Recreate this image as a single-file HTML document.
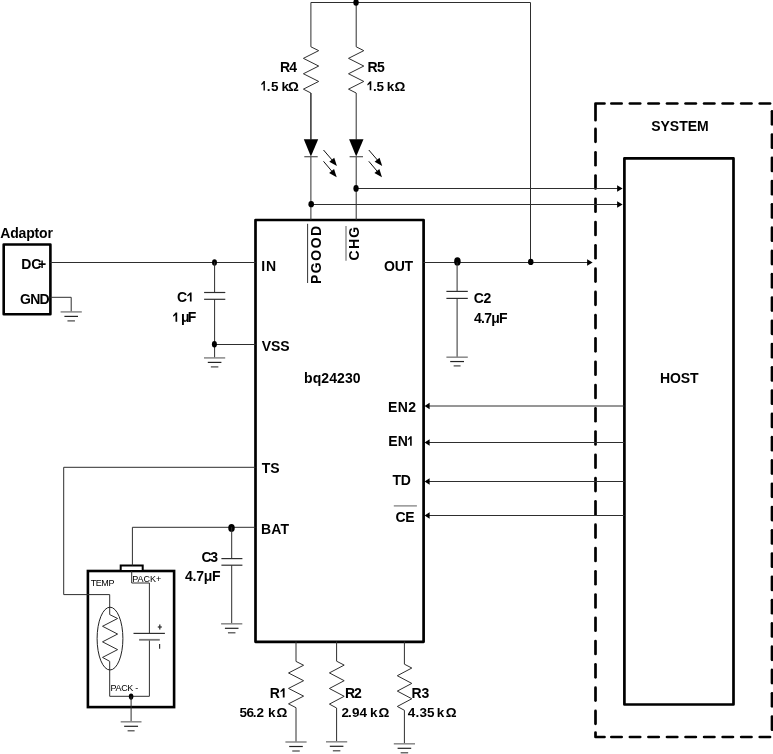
<!DOCTYPE html>
<html><head><meta charset="utf-8"><style>
html,body{margin:0;padding:0;background:#fff;}
svg{display:block;will-change:transform;}
text{font-family:"Liberation Sans",sans-serif;fill:#000;}
</style></head><body>
<svg width="773" height="754" viewBox="0 0 773 754">
<rect width="773" height="754" fill="#fff"/>
<path d="M604.5,103.5 H595.5 V120.2" stroke="#000" stroke-width="2.7" fill="none" stroke-linecap="round" stroke-linejoin="round"/>
<path d="M611.35,103.5 H621.65" stroke="#000" stroke-width="2.7" stroke-linecap="round"/>
<path d="M629.90,103.5 H640.20" stroke="#000" stroke-width="2.7" stroke-linecap="round"/>
<path d="M648.45,103.5 H658.75" stroke="#000" stroke-width="2.7" stroke-linecap="round"/>
<path d="M667.00,103.5 H677.30" stroke="#000" stroke-width="2.7" stroke-linecap="round"/>
<path d="M685.55,103.5 H695.85" stroke="#000" stroke-width="2.7" stroke-linecap="round"/>
<path d="M704.10,103.5 H714.40" stroke="#000" stroke-width="2.7" stroke-linecap="round"/>
<path d="M722.65,103.5 H732.95" stroke="#000" stroke-width="2.7" stroke-linecap="round"/>
<path d="M741.20,103.5 H751.50" stroke="#000" stroke-width="2.7" stroke-linecap="round"/>
<path d="M759.75,103.5 H770.05" stroke="#000" stroke-width="2.7" stroke-linecap="round"/>
<path d="M604.5,737.0 H595.5 V732.6" stroke="#000" stroke-width="2.7" fill="none" stroke-linecap="round" stroke-linejoin="round"/>
<path d="M611.35,737.0 H621.65" stroke="#000" stroke-width="2.7" stroke-linecap="round"/>
<path d="M629.90,737.0 H640.20" stroke="#000" stroke-width="2.7" stroke-linecap="round"/>
<path d="M648.45,737.0 H658.75" stroke="#000" stroke-width="2.7" stroke-linecap="round"/>
<path d="M667.00,737.0 H677.30" stroke="#000" stroke-width="2.7" stroke-linecap="round"/>
<path d="M685.55,737.0 H695.85" stroke="#000" stroke-width="2.7" stroke-linecap="round"/>
<path d="M704.10,737.0 H714.40" stroke="#000" stroke-width="2.7" stroke-linecap="round"/>
<path d="M722.65,737.0 H732.95" stroke="#000" stroke-width="2.7" stroke-linecap="round"/>
<path d="M741.20,737.0 H751.50" stroke="#000" stroke-width="2.7" stroke-linecap="round"/>
<path d="M759.75,737.0 H770.05" stroke="#000" stroke-width="2.7" stroke-linecap="round"/>
<path d="M595.5,128.95 V141.85" stroke="#000" stroke-width="2.7" stroke-linecap="round"/>
<path d="M595.5,152.23 V165.13" stroke="#000" stroke-width="2.7" stroke-linecap="round"/>
<path d="M595.5,175.51 V188.41" stroke="#000" stroke-width="2.7" stroke-linecap="round"/>
<path d="M595.5,198.79 V211.69" stroke="#000" stroke-width="2.7" stroke-linecap="round"/>
<path d="M595.5,222.07 V234.97" stroke="#000" stroke-width="2.7" stroke-linecap="round"/>
<path d="M595.5,245.35 V258.25" stroke="#000" stroke-width="2.7" stroke-linecap="round"/>
<path d="M595.5,268.63 V281.53" stroke="#000" stroke-width="2.7" stroke-linecap="round"/>
<path d="M595.5,291.91 V304.81" stroke="#000" stroke-width="2.7" stroke-linecap="round"/>
<path d="M595.5,315.19 V328.09" stroke="#000" stroke-width="2.7" stroke-linecap="round"/>
<path d="M595.5,338.47 V351.37" stroke="#000" stroke-width="2.7" stroke-linecap="round"/>
<path d="M595.5,361.75 V374.65" stroke="#000" stroke-width="2.7" stroke-linecap="round"/>
<path d="M595.5,385.03 V397.93" stroke="#000" stroke-width="2.7" stroke-linecap="round"/>
<path d="M595.5,408.31 V421.21" stroke="#000" stroke-width="2.7" stroke-linecap="round"/>
<path d="M595.5,431.59 V444.49" stroke="#000" stroke-width="2.7" stroke-linecap="round"/>
<path d="M595.5,454.87 V467.77" stroke="#000" stroke-width="2.7" stroke-linecap="round"/>
<path d="M595.5,478.15 V491.05" stroke="#000" stroke-width="2.7" stroke-linecap="round"/>
<path d="M595.5,501.43 V514.33" stroke="#000" stroke-width="2.7" stroke-linecap="round"/>
<path d="M595.5,524.71 V537.61" stroke="#000" stroke-width="2.7" stroke-linecap="round"/>
<path d="M595.5,547.99 V560.89" stroke="#000" stroke-width="2.7" stroke-linecap="round"/>
<path d="M595.5,571.27 V584.17" stroke="#000" stroke-width="2.7" stroke-linecap="round"/>
<path d="M595.5,594.55 V607.45" stroke="#000" stroke-width="2.7" stroke-linecap="round"/>
<path d="M595.5,617.83 V630.73" stroke="#000" stroke-width="2.7" stroke-linecap="round"/>
<path d="M595.5,641.11 V654.01" stroke="#000" stroke-width="2.7" stroke-linecap="round"/>
<path d="M595.5,664.39 V677.29" stroke="#000" stroke-width="2.7" stroke-linecap="round"/>
<path d="M595.5,687.67 V700.57" stroke="#000" stroke-width="2.7" stroke-linecap="round"/>
<path d="M595.5,710.95 V723.85" stroke="#000" stroke-width="2.7" stroke-linecap="round"/>
<path d="M772.0,111.25 V124.35" stroke="#000" stroke-width="2.7" stroke-linecap="round"/>
<path d="M772.0,134.53 V147.63" stroke="#000" stroke-width="2.7" stroke-linecap="round"/>
<path d="M772.0,157.81 V170.91" stroke="#000" stroke-width="2.7" stroke-linecap="round"/>
<path d="M772.0,181.09 V194.19" stroke="#000" stroke-width="2.7" stroke-linecap="round"/>
<path d="M772.0,204.37 V217.47" stroke="#000" stroke-width="2.7" stroke-linecap="round"/>
<path d="M772.0,227.65 V240.75" stroke="#000" stroke-width="2.7" stroke-linecap="round"/>
<path d="M772.0,250.93 V264.03" stroke="#000" stroke-width="2.7" stroke-linecap="round"/>
<path d="M772.0,274.21 V287.31" stroke="#000" stroke-width="2.7" stroke-linecap="round"/>
<path d="M772.0,297.49 V310.59" stroke="#000" stroke-width="2.7" stroke-linecap="round"/>
<path d="M772.0,320.77 V333.87" stroke="#000" stroke-width="2.7" stroke-linecap="round"/>
<path d="M772.0,344.05 V357.15" stroke="#000" stroke-width="2.7" stroke-linecap="round"/>
<path d="M772.0,367.33 V380.43" stroke="#000" stroke-width="2.7" stroke-linecap="round"/>
<path d="M772.0,390.61 V403.71" stroke="#000" stroke-width="2.7" stroke-linecap="round"/>
<path d="M772.0,413.89 V426.99" stroke="#000" stroke-width="2.7" stroke-linecap="round"/>
<path d="M772.0,437.17 V450.27" stroke="#000" stroke-width="2.7" stroke-linecap="round"/>
<path d="M772.0,460.45 V473.55" stroke="#000" stroke-width="2.7" stroke-linecap="round"/>
<path d="M772.0,483.73 V496.83" stroke="#000" stroke-width="2.7" stroke-linecap="round"/>
<path d="M772.0,507.01 V520.11" stroke="#000" stroke-width="2.7" stroke-linecap="round"/>
<path d="M772.0,530.29 V543.39" stroke="#000" stroke-width="2.7" stroke-linecap="round"/>
<path d="M772.0,553.57 V566.67" stroke="#000" stroke-width="2.7" stroke-linecap="round"/>
<path d="M772.0,576.85 V589.95" stroke="#000" stroke-width="2.7" stroke-linecap="round"/>
<path d="M772.0,600.13 V613.23" stroke="#000" stroke-width="2.7" stroke-linecap="round"/>
<path d="M772.0,623.41 V636.51" stroke="#000" stroke-width="2.7" stroke-linecap="round"/>
<path d="M772.0,646.69 V659.79" stroke="#000" stroke-width="2.7" stroke-linecap="round"/>
<path d="M772.0,669.97 V683.07" stroke="#000" stroke-width="2.7" stroke-linecap="round"/>
<path d="M772.0,693.25 V706.35" stroke="#000" stroke-width="2.7" stroke-linecap="round"/>
<path d="M772.0,716.53 V729.63" stroke="#000" stroke-width="2.7" stroke-linecap="round"/>
<rect x="624.4" y="158.3" width="109.1" height="546.2" fill="none" stroke="#000" stroke-width="2.7" stroke-linejoin="round"/>
<rect x="255.5" y="220.0" width="168.1" height="421.8" fill="none" stroke="#000" stroke-width="2.7" stroke-linejoin="round"/>
<rect x="3.7" y="244.5" width="46.7" height="69.7" fill="none" stroke="#000" stroke-width="2.6" stroke-linejoin="round"/>
<rect x="87.9" y="571.0" width="86.2" height="136.1" fill="none" stroke="#000" stroke-width="2.6"/>
<rect x="120.7" y="565.5" width="22.0" height="5.5" fill="#fff" stroke="#000" stroke-width="2.0"/>
<path d="M310.9,139.5 L310.9,93.0" stroke="#2e2e2e" stroke-width="1.0" fill="none" stroke-linejoin="miter" />
<path d="M310.9,46.8 L318.7,50.65 L303.4,58.349999999999994 L318.7,66.05 L303.4,73.75 L318.7,81.44999999999999 L303.4,89.15 L310.9,93.0" stroke="#2e2e2e" stroke-width="1.0" fill="none" stroke-linejoin="miter" />
<path d="M310.9,46.8 L310.9,2.5 L530.5,2.5 L530.5,262.3" stroke="#2e2e2e" stroke-width="1.0" fill="none" stroke-linejoin="miter" />
<path d="M356.2,46.8 L363.8,50.65 L348.5,58.349999999999994 L363.8,66.05 L348.5,73.75 L363.8,81.44999999999999 L348.5,89.15 L356.2,93.0" stroke="#2e2e2e" stroke-width="1.0" fill="none" stroke-linejoin="miter" />
<line x1="356.2" y1="2.5" x2="356.2" y2="46.8" stroke="#2e2e2e" stroke-width="1.0" />
<line x1="310.9" y1="156.5" x2="310.9" y2="220.0" stroke="#2e2e2e" stroke-width="1.0" />
<line x1="356.2" y1="156.5" x2="356.2" y2="220.0" stroke="#2e2e2e" stroke-width="1.0" />
<line x1="310.9" y1="93.0" x2="310.9" y2="139.5" stroke="#2e2e2e" stroke-width="1.0" />
<line x1="356.2" y1="93.0" x2="356.2" y2="139.5" stroke="#2e2e2e" stroke-width="1.0" />
<ellipse cx="356.05" cy="2.5" rx="2.7" ry="3.3" fill="#000"/>
<path d="M303.79999999999995,139.3 L318.2,139.3 L310.9,156.4 Z" fill="#000"/>
<line x1="304.29999999999995" y1="156.7" x2="317.7" y2="156.7" stroke="#555" stroke-width="1.2" />
<line x1="323.5" y1="150.0" x2="333.3" y2="161.4" stroke="#111" stroke-width="1.0" />
<path d="M336.90000000000003,165.9 L329.32,161.80 L334.24,157.70 Z" fill="#000"/>
<line x1="323.5" y1="161.29999999999998" x2="333.1" y2="172.7" stroke="#111" stroke-width="1.0" />
<path d="M336.70000000000005,177.2 L329.12,173.10 L334.04,169.00 Z" fill="#000"/>
<path d="M349.09999999999997,139.3 L363.5,139.3 L356.2,156.4 Z" fill="#000"/>
<line x1="349.59999999999997" y1="156.7" x2="363.0" y2="156.7" stroke="#555" stroke-width="1.2" />
<line x1="368.8" y1="150.0" x2="378.6" y2="161.4" stroke="#111" stroke-width="1.0" />
<path d="M382.20000000000005,165.9 L374.62,161.80 L379.54,157.70 Z" fill="#000"/>
<line x1="368.8" y1="161.29999999999998" x2="378.40000000000003" y2="172.7" stroke="#111" stroke-width="1.0" />
<path d="M382.00000000000006,177.2 L374.42,173.10 L379.34,169.00 Z" fill="#000"/>
<line x1="356.2" y1="188.5" x2="618" y2="188.5" stroke="#2e2e2e" stroke-width="1.0" />
<path d="M622.6,188.5 L617.10,191.80 L617.10,185.20 Z" fill="#000"/>
<line x1="310.9" y1="204.5" x2="618" y2="204.5" stroke="#2e2e2e" stroke-width="1.0" />
<path d="M622.6,204.5 L617.10,207.80 L617.10,201.20 Z" fill="#000"/>
<ellipse cx="356.05" cy="188.4" rx="2.65" ry="3.4" fill="#000"/>
<ellipse cx="311.2" cy="204.15" rx="2.8" ry="3.15" fill="#000"/>
<line x1="50.4" y1="262.5" x2="255.5" y2="262.5" stroke="#2e2e2e" stroke-width="1.0" />
<ellipse cx="214.5" cy="262.5" rx="2.45" ry="3.2" fill="#000"/>
<line x1="214.6" y1="262.3" x2="214.6" y2="292.5" stroke="#2e2e2e" stroke-width="1.0" />
<line x1="204.1" y1="292.5" x2="225.3" y2="292.5" stroke="#2e2e2e" stroke-width="1.2" />
<line x1="204.1" y1="299.3" x2="225.3" y2="299.3" stroke="#2e2e2e" stroke-width="1.2" />
<line x1="214.6" y1="299.3" x2="214.6" y2="357.9" stroke="#2e2e2e" stroke-width="1.0" />
<line x1="214.6" y1="344.5" x2="255.5" y2="344.5" stroke="#2e2e2e" stroke-width="1.0" />
<ellipse cx="214.4" cy="344.2" rx="2.5" ry="3.3" fill="#000"/>
<line x1="204.0" y1="357.9" x2="225.2" y2="357.9" stroke="#888" stroke-width="1.5" />
<line x1="207.79999999999998" y1="362.4" x2="221.4" y2="362.4" stroke="#222" stroke-width="1.2" />
<line x1="210.85" y1="366.9" x2="218.35" y2="366.9" stroke="#444" stroke-width="1.2" />
<path d="M50.4,297.3 L71.2,297.3 L71.2,311.9" stroke="#2e2e2e" stroke-width="1.0" fill="none" stroke-linejoin="miter" />
<line x1="60.6" y1="311.9" x2="81.8" y2="311.9" stroke="#888" stroke-width="1.5" />
<line x1="64.4" y1="316.4" x2="78.0" y2="316.4" stroke="#222" stroke-width="1.2" />
<line x1="67.45" y1="320.9" x2="74.95" y2="320.9" stroke="#444" stroke-width="1.2" />
<line x1="423.5" y1="262.5" x2="588" y2="262.5" stroke="#2e2e2e" stroke-width="1.0" />
<path d="M592.6,262.5 L587.10,265.80 L587.10,259.20 Z" fill="#000"/>
<ellipse cx="457.4" cy="261.4" rx="3.25" ry="4.2" fill="#000"/>
<ellipse cx="530.75" cy="261.9" rx="2.75" ry="3.15" fill="#000"/>
<line x1="457.1" y1="262.3" x2="457.1" y2="291.4" stroke="#2e2e2e" stroke-width="1.0" />
<line x1="446.4" y1="291.4" x2="467.8" y2="291.4" stroke="#2e2e2e" stroke-width="1.2" />
<line x1="446.4" y1="298.4" x2="467.8" y2="298.4" stroke="#2e2e2e" stroke-width="1.2" />
<line x1="457.1" y1="298.4" x2="457.1" y2="357.2" stroke="#2e2e2e" stroke-width="1.0" />
<line x1="446.40000000000003" y1="357.2" x2="467.8" y2="357.2" stroke="#888" stroke-width="1.5" />
<line x1="450.20000000000005" y1="361.55" x2="464.0" y2="361.55" stroke="#222" stroke-width="1.2" />
<line x1="453.65000000000003" y1="365.9" x2="460.55" y2="365.9" stroke="#444" stroke-width="1.2" />
<line x1="624.4" y1="406.0" x2="428" y2="406.0" stroke="#2e2e2e" stroke-width="1.0" />
<path d="M424.6,406.0 L429.60,402.80 L429.60,409.20 Z" fill="#000"/>
<line x1="624.4" y1="442.5" x2="428" y2="442.5" stroke="#2e2e2e" stroke-width="1.0" />
<path d="M424.6,442.5 L429.60,439.30 L429.60,445.70 Z" fill="#000"/>
<line x1="624.4" y1="481.5" x2="428" y2="481.5" stroke="#2e2e2e" stroke-width="1.0" />
<path d="M424.6,481.5 L429.60,478.30 L429.60,484.70 Z" fill="#000"/>
<line x1="624.4" y1="515.5" x2="428" y2="515.5" stroke="#2e2e2e" stroke-width="1.0" />
<path d="M424.6,515.5 L429.60,512.30 L429.60,518.70 Z" fill="#000"/>
<line x1="393.8" y1="505.9" x2="416.9" y2="505.9" stroke="#777" stroke-width="1.2" />
<line x1="307.6" y1="223.8" x2="307.6" y2="283.0" stroke="#333" stroke-width="1.0" />
<line x1="346.0" y1="226.1" x2="346.0" y2="260.7" stroke="#777" stroke-width="1.2" />
<path d="M255.5,467.3 L63.7,467.3 L63.7,594.6 L109.7,594.6 L109.7,614.6" stroke="#2e2e2e" stroke-width="1.0" fill="none" stroke-linejoin="miter" />
<path d="M109.7,614.6 L117.6,618.4916666666667 L102.5,626.275 L117.6,634.0583333333333 L102.5,641.8416666666667 L117.6,649.625 L102.5,657.4083333333333 L109.7,661.3" stroke="#2e2e2e" stroke-width="1.0" fill="none" stroke-linejoin="miter" />
<ellipse cx="110.0" cy="638.6" rx="12.9" ry="31.4" fill="none" stroke="#222" stroke-width="1"/>
<path d="M109.7,661.3 L109.7,696.3 L149.4,696.3 L149.4,639.8" stroke="#2e2e2e" stroke-width="1.0" fill="none" stroke-linejoin="miter" />
<path d="M255.5,527.3 L132.4,527.3 L132.4,565.5" stroke="#2e2e2e" stroke-width="1.0" fill="none" stroke-linejoin="miter" />
<path d="M131.7,571.0 L131.7,583.0 L149.4,583.0 L149.4,633.4" stroke="#2e2e2e" stroke-width="1.0" fill="none" stroke-linejoin="miter" />
<line x1="133.5" y1="633.4" x2="164.9" y2="633.4" stroke="#2e2e2e" stroke-width="1.2" />
<line x1="139.1" y1="639.8" x2="159.8" y2="639.8" stroke="#777" stroke-width="1.8" />
<line x1="157.8" y1="627.0" x2="161.8" y2="627.0" stroke="#333" stroke-width="1.3" />
<line x1="159.8" y1="624.5" x2="159.8" y2="629.5" stroke="#333" stroke-width="1.3" />
<line x1="159.6" y1="644.0" x2="159.6" y2="648.8" stroke="#333" stroke-width="1.2" />
<ellipse cx="131.1" cy="696.6" rx="2.3" ry="3.1" fill="#000"/>
<line x1="131.1" y1="696.5" x2="131.1" y2="721.8" stroke="#2e2e2e" stroke-width="1.0" />
<line x1="120.69999999999999" y1="721.8" x2="141.5" y2="721.8" stroke="#888" stroke-width="1.5" />
<line x1="124.14999999999999" y1="726.3" x2="138.04999999999998" y2="726.3" stroke="#222" stroke-width="1.2" />
<line x1="127.6" y1="730.8" x2="134.6" y2="730.8" stroke="#444" stroke-width="1.2" />
<ellipse cx="231.5" cy="527.9" rx="3.25" ry="3.9" fill="#000"/>
<line x1="231.7" y1="527.3" x2="231.7" y2="558.6" stroke="#2e2e2e" stroke-width="1.0" />
<line x1="221.4" y1="558.6" x2="242.4" y2="558.6" stroke="#2e2e2e" stroke-width="1.2" />
<line x1="221.4" y1="565.2" x2="242.4" y2="565.2" stroke="#2e2e2e" stroke-width="1.2" />
<line x1="231.7" y1="565.2" x2="231.7" y2="623.8" stroke="#2e2e2e" stroke-width="1.0" />
<line x1="221.1" y1="623.8" x2="242.29999999999998" y2="623.8" stroke="#888" stroke-width="1.5" />
<line x1="224.89999999999998" y1="628.3" x2="238.5" y2="628.3" stroke="#222" stroke-width="1.2" />
<line x1="227.95" y1="632.8" x2="235.45" y2="632.8" stroke="#444" stroke-width="1.2" />
<line x1="296.0" y1="641.5" x2="296.0" y2="661.4" stroke="#2e2e2e" stroke-width="1.0" />
<path d="M296.0,661.4 L303.6,665.2583333333333 L288.5,672.975 L303.6,680.6916666666667 L288.5,688.4083333333333 L303.6,696.125 L288.5,703.8416666666667 L296.0,707.7" stroke="#2e2e2e" stroke-width="1.0" fill="none" stroke-linejoin="miter" />
<line x1="296.0" y1="707.7" x2="296.0" y2="742.0" stroke="#2e2e2e" stroke-width="1.0" />
<line x1="285.4" y1="742.0" x2="306.6" y2="742.0" stroke="#888" stroke-width="1.5" />
<line x1="289.2" y1="746.5" x2="302.8" y2="746.5" stroke="#222" stroke-width="1.2" />
<line x1="292.25" y1="751.0" x2="299.75" y2="751.0" stroke="#444" stroke-width="1.2" />
<line x1="336.6" y1="641.5" x2="336.6" y2="661.2" stroke="#2e2e2e" stroke-width="1.0" />
<path d="M336.6,661.2 L344.2,665.1 L329.4,672.9000000000001 L344.2,680.7 L329.4,688.5 L344.2,696.3 L329.4,704.1 L336.6,708.0" stroke="#2e2e2e" stroke-width="1.0" fill="none" stroke-linejoin="miter" />
<line x1="336.6" y1="708.0" x2="336.6" y2="741.8" stroke="#2e2e2e" stroke-width="1.0" />
<line x1="326.0" y1="741.8" x2="347.20000000000005" y2="741.8" stroke="#888" stroke-width="1.5" />
<line x1="329.8" y1="746.3" x2="343.40000000000003" y2="746.3" stroke="#222" stroke-width="1.2" />
<line x1="332.85" y1="750.8" x2="340.35" y2="750.8" stroke="#444" stroke-width="1.2" />
<line x1="404.4" y1="641.5" x2="404.4" y2="664.2" stroke="#2e2e2e" stroke-width="1.0" />
<path d="M404.4,664.2 L411.8,668.0416666666667 L397.3,675.725 L411.8,683.4083333333333 L397.3,691.0916666666667 L411.8,698.775 L397.3,706.4583333333333 L404.4,710.3" stroke="#2e2e2e" stroke-width="1.0" fill="none" stroke-linejoin="miter" />
<line x1="404.4" y1="710.3" x2="404.4" y2="743.8" stroke="#2e2e2e" stroke-width="1.0" />
<line x1="393.79999999999995" y1="743.8" x2="415.0" y2="743.8" stroke="#888" stroke-width="1.5" />
<line x1="397.59999999999997" y1="748.3" x2="411.2" y2="748.3" stroke="#222" stroke-width="1.2" />
<line x1="400.65" y1="752.8" x2="408.15" y2="752.8" stroke="#444" stroke-width="1.2" />
<text x="0.20" y="237.6" font-size="14" font-weight="bold" textLength="52.67" lengthAdjust="spacing">Adaptor</text>
<text x="20.10" y="303.8" font-size="14" font-weight="bold" textLength="29.52" lengthAdjust="spacing">GND</text>
<text x="261.20" y="270.8" font-size="14" font-weight="bold" textLength="14.90" lengthAdjust="spacing">IN</text>
<text x="261.75" y="351.0" font-size="14" font-weight="bold" textLength="27.77" lengthAdjust="spacing">VSS</text>
<text x="384.10" y="271.0" font-size="14" font-weight="bold" textLength="28.96" lengthAdjust="spacing">OUT</text>
<text x="304.00" y="383.0" font-size="14" font-weight="bold" textLength="56.55" lengthAdjust="spacing">bq24230</text>
<text x="388.00" y="412.0" font-size="14" font-weight="bold" textLength="27.98" lengthAdjust="spacing">EN2</text>
<text x="392.45" y="485.0" font-size="14" font-weight="bold" textLength="18.42" lengthAdjust="spacing">TD</text>
<text x="395.40" y="521.5" font-size="14" font-weight="bold" textLength="19.25" lengthAdjust="spacing">CE</text>
<text x="261.75" y="472.9" font-size="14" font-weight="bold" textLength="17.89" lengthAdjust="spacing">TS</text>
<text x="261.00" y="533.8" font-size="14" font-weight="bold" textLength="28.03" lengthAdjust="spacing">BAT</text>
<text x="473.80" y="302.9" font-size="14" font-weight="bold" textLength="17.56" lengthAdjust="spacing">C2</text>
<text x="474.05" y="323.1" font-size="14" font-weight="bold" textLength="33.54" lengthAdjust="spacing">4.7μF</text>
<text x="201.50" y="561.7" font-size="14" font-weight="bold" textLength="16.51" lengthAdjust="spacing">C3</text>
<text x="184.95" y="581.0" font-size="14" font-weight="bold" textLength="35.64" lengthAdjust="spacing">4.7μF</text>
<text x="279.90" y="71.7" font-size="14" font-weight="bold" textLength="17.16" lengthAdjust="spacing">R4</text>
<text x="367.50" y="71.7" font-size="14" font-weight="bold" textLength="17.41" lengthAdjust="spacing">R5</text>
<text x="345.00" y="697.8" font-size="14" font-weight="bold" textLength="16.76" lengthAdjust="spacing">R2</text>
<text x="411.60" y="697.8" font-size="14" font-weight="bold" textLength="17.81" lengthAdjust="spacing">R3</text>
<text x="651.30" y="130.8" font-size="14" font-weight="bold" textLength="57.28" lengthAdjust="spacing">SYSTEM</text>
<text x="659.90" y="383.2" font-size="14" font-weight="bold" textLength="38.74" lengthAdjust="spacing">HOST</text>
<text x="90.75" y="585.6" font-size="9" font-weight="normal" textLength="23.67" lengthAdjust="spacing">TEMP</text>
<text x="132.25" y="581.7" font-size="9" font-weight="normal" textLength="29.01" lengthAdjust="spacing">PACK+</text>
<text x="110.55" y="691.0" font-size="9" font-weight="normal" textLength="27.59" lengthAdjust="spacing">PACK -</text>
<text transform="translate(321.1,284.00) rotate(-90)" x="0" y="0" font-size="14" font-weight="bold" textLength="58.22" lengthAdjust="spacing">PGOOD</text>
<text transform="translate(358.9,260.50) rotate(-90)" x="0" y="0" font-size="14" font-weight="bold" textLength="33.68" lengthAdjust="spacing">CHG</text>
<text y="268.8" font-size="14" font-weight="bold"><tspan x="21.20">DC</tspan><tspan x="38.10">+</tspan></text>
<text y="445.9" font-size="14" font-weight="bold"><tspan x="388.30">EN</tspan></text>
<text y="301.8" font-size="14" font-weight="bold"><tspan x="176.90">C</tspan></text>
<text y="322.0" font-size="14" font-weight="bold"><tspan x="181.10">μ</tspan><tspan x="187.80">F</tspan></text>
<text y="90.6" font-size="13.5" font-weight="bold"><tspan x="266.80">.</tspan><tspan x="271.10">5</tspan><tspan x="281.40">k</tspan><tspan x="287.90">Ω</tspan></text>
<text y="90.6" font-size="13.5" font-weight="bold"><tspan x="373.00">.</tspan><tspan x="376.50">5</tspan><tspan x="386.80">k</tspan><tspan x="394.50">Ω</tspan></text>
<text y="716.8" font-size="13.5" font-weight="bold"><tspan x="239.50">5</tspan><tspan x="246.40">6</tspan><tspan x="252.80">.</tspan><tspan x="256.50">2</tspan><tspan x="267.90">k</tspan><tspan x="276.40">Ω</tspan></text>
<text y="716.8" font-size="13.5" font-weight="bold"><tspan x="341.40">2</tspan><tspan x="348.10">.</tspan><tspan x="352.10">9</tspan><tspan x="359.55">4</tspan><tspan x="369.90">k</tspan><tspan x="378.50">Ω</tspan></text>
<text y="716.8" font-size="13.5" font-weight="bold"><tspan x="407.75">4</tspan><tspan x="415.60">.</tspan><tspan x="419.55">3</tspan><tspan x="427.00">5</tspan><tspan x="436.80">k</tspan><tspan x="445.80">Ω</tspan></text>
<text y="697.8" font-size="14" font-weight="bold"><tspan x="269.70">R</tspan></text>
<path d="M280.30,691.15 L283.00,688.15 L284.60,688.15 L284.60,697.55 L282.80,697.55 L282.80,690.65 L280.70,692.25 Z" fill="#000"/>
<path d="M187.10,295.45 L190.10,292.45 L191.60,292.45 L191.60,301.55 L189.90,301.55 L189.90,294.95 L187.50,296.55 Z" fill="#000"/>
<path d="M173.00,315.55 L175.70,312.55 L177.20,312.55 L177.20,321.75 L175.50,321.75 L175.50,315.05 L173.40,316.65 Z" fill="#000"/>
<path d="M407.70,439.15 L410.30,436.15 L411.70,436.15 L411.70,445.65 L410.10,445.65 L410.10,438.65 L408.10,440.25 Z" fill="#000"/>
<path d="M261.20,84.10 L263.70,81.10 L264.90,81.10 L264.90,90.45 L263.50,90.45 L263.50,83.60 L261.60,85.20 Z" fill="#000"/>
<path d="M367.30,84.35 L369.90,81.35 L371.30,81.35 L371.30,90.35 L369.70,90.35 L369.70,83.85 L367.70,85.45 Z" fill="#000"/>
</svg></body></html>
